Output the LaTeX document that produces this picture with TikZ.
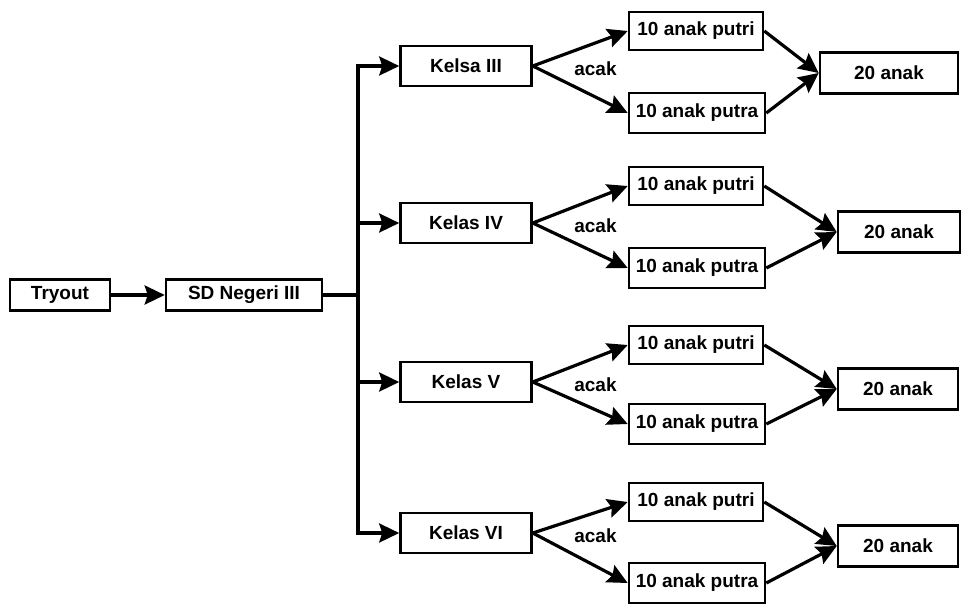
\documentclass[tikz,border=0pt]{standalone}
\usepackage{fontspec}
\setsansfont{Liberation Sans}
\usepackage{tikz}
\usetikzlibrary{arrows.meta, positioning}

\tikzset{
  kotak/.style={draw, line width=2.6pt, inner sep=0pt, minimum height=38pt, font=\sffamily\bfseries\fontsize{19}{22}\selectfont},
  panah/.style={line width=3.2pt, -{Stealth[length=20pt, width=19pt, inset=3pt]}},
  garis/.style={line width=3.2pt}
}

\begin{document}
\begin{tikzpicture}[x=1pt, y=-1pt]
  \useasboundingbox (0,0) rectangle (963,606);
  % Start
  \node[kotak, minimum width=100pt, minimum height=31pt] (tryout) at (60,295) {Tryout};
  \node[kotak, minimum width=156pt, minimum height=31pt] (sd) at (244,295) {SD Negeri III};
  \coordinate (bus) at (358,295);
  \draw[panah] (tryout) -- (sd);
  \draw[garis] (sd) -- (bus);
  % Rows
  \foreach \n/\lab/\yk/\ypi/\ypa/\xan/\yan/\wan in {1/Kelsa III/66/31/113/889/73/138, 2/Kelas IV/223/186/268/899/232/122, 3/Kelas V/382/345/424/898/389/120, 4/Kelas VI/533/502/583/898/546/120} {
    \node[kotak, minimum width=131pt, minimum height=40pt] (kelas\n) at (466,\yk) {\lab};
    \node[kotak, minimum width=134pt] (putri\n) at (696,\ypi) {10 anak putri};
    \node[kotak, minimum width=136pt, minimum height=40pt] (putra\n) at (697,\ypa) {10 anak putra};
    \node[kotak, minimum width=\wan pt, minimum height=41pt] (anak\n) at (\xan,\yan) {20 anak};
    \node[font=\sffamily\bfseries\fontsize{19}{22}\selectfont, right=38pt of kelas\n, yshift=-3pt] (acak\n) {acak};
    \draw[panah] (bus) |- (kelas\n);
    \draw[panah] (kelas\n.east) -- (putri\n.west);
    \draw[panah] (kelas\n.east) -- (putra\n.west);
    \draw[panah] (putri\n.east) -- (anak\n.west);
    \draw[panah] (putra\n.east) -- (anak\n.west);
  }
\end{tikzpicture}
\end{document}
